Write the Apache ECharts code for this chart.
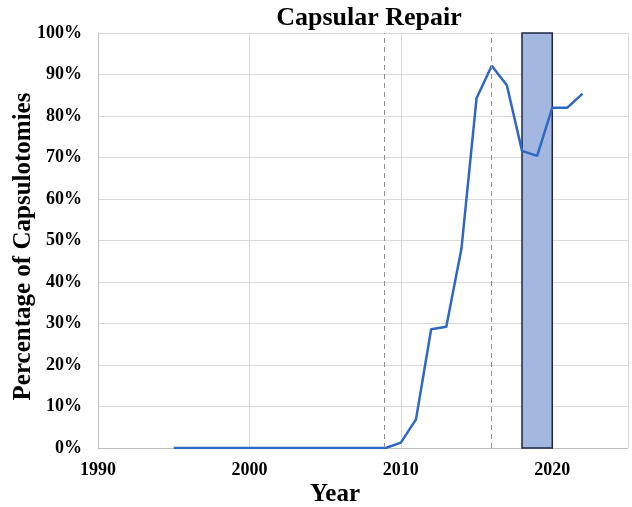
<!DOCTYPE html>
<html>
<head>
<meta charset="utf-8">
<script src="https://cdn.jsdelivr.net/npm/echarts@6/dist/echarts.min.js"></script>
<style>
html, body { margin: 0; padding: 0; background: #fff; }
#main { width: 632px; height: 507px; }
</style>
</head>
<body>
<div id="main"></div>
<script>
// 数据
var years = [1995, 1996, 1997, 1998, 1999, 2000, 2001, 2002, 2003, 2004, 2005, 2006, 2007, 2008, 2009,
    2010, 2011, 2012, 2013, 2014, 2015, 2016, 2017, 2018, 2019, 2020, 2021, 2022];
var percent = [0, 0, 0, 0, 0, 0, 0, 0, 0, 0, 0, 0, 0, 0, 0,
    1.3, 6.9, 28.6, 29.2, 48, 84.3, 92.1, 87.4, 71.6, 70.4, 82.0, 82.0, 85.4];
var dashedYears = [2008.9, 2016];
var boxYears = [2018, 2020];

var serif = '"Liberation Serif", "DejaVu Serif", serif';
var Chart = echarts.init(document.getElementById('main'));

var option = {
    animation: false,
    title: {
        text: 'Capsular Repair',
        left: 364,
        top: 0,
        textAlign: 'center',
        textStyle: { fontFamily: serif, fontWeight: 'bold', fontSize: 26, color: '#000' }
    },
    grid: { left: 98, right: 4, top: 33, bottom: 59, outerBoundsMode: 'none', containLabel: false },
    xAxis: {
        type: 'value',
        min: 1990,
        max: 2025,
        interval: 10,
        name: 'Year',
        nameLocation: 'middle',
        nameGap: 34,
        nameMoveOverlap: false,
        nameTextStyle: { fontFamily: serif, fontWeight: 'bold', fontSize: 25, color: '#000', padding: [0, 56, 0, 0] },
        axisLine: { show: true, lineStyle: { color: '#bfbfbf' } },
        axisTick: { show: false },
        axisLabel: {
            showMaxLabel: false,
            margin: 13,
            formatter: function (v) { return String(v); },
            fontFamily: serif, fontWeight: 'bold', fontSize: 18, color: '#000'
        },
        splitLine: { show: true, lineStyle: { color: '#d9d9d9' } }
    },
    yAxis: {
        type: 'value',
        min: 0,
        max: 100,
        interval: 10,
        name: 'Percentage of Capsulotomies',
        nameLocation: 'middle',
        nameGap: 62,
        nameMoveOverlap: false,
        nameTextStyle: { fontFamily: serif, fontWeight: 'bold', fontSize: 25, color: '#000', padding: [0, 12, 0, 0] },
        axisLine: { show: true, lineStyle: { color: '#bfbfbf' } },
        axisTick: { show: false },
        axisLabel: {
            formatter: '{value}%',
            margin: 16,
            fontFamily: serif, fontWeight: 'bold', fontSize: 18, color: '#000'
        },
        splitLine: { show: true, lineStyle: { color: '#d9d9d9' } }
    },
    series: [
        {
            type: 'line',
            z: 1,
            data: [],
            markLine: {
                silent: true,
                symbol: 'none',
                label: { show: false },
                lineStyle: { color: '#8f8f8f', type: [5, 4], width: 1 },
                data: dashedYears.map(function (y) { return { xAxis: y }; })
            },
            markArea: {
                silent: true,
                itemStyle: { color: '#a3b7e0', borderColor: '#1c2846', borderWidth: 1.5 },
                data: [[{ xAxis: boxYears[0], yAxis: 0 }, { xAxis: boxYears[1], yAxis: 100 }]]
            }
        },
        {
            type: 'line',
            z: 3,
            symbol: 'none',
            lineStyle: { color: '#2f67c4', width: 2.5 },
            data: years.map(function (y, i) { return [y, percent[i]]; })
        }
    ]
};
Chart.setOption(option);
</script>
</body>
</html>
